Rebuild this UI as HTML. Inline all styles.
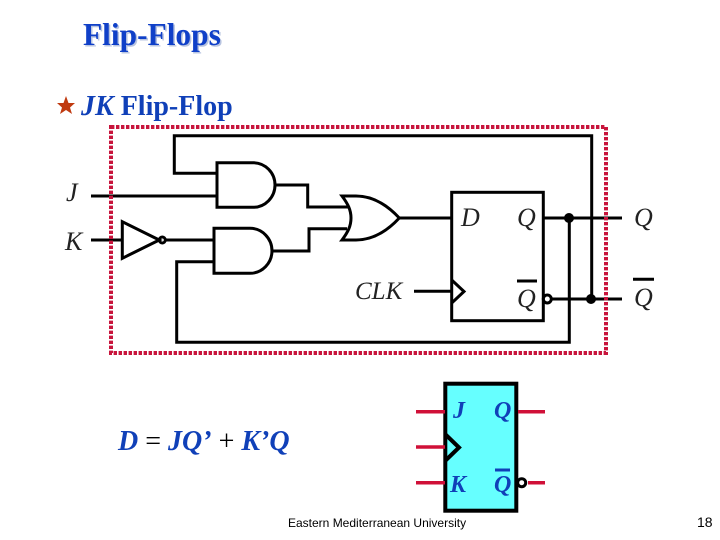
<!DOCTYPE html>
<html><head><meta charset="utf-8"><style>
html,body{margin:0;padding:0;background:#fff;width:720px;height:540px;overflow:hidden}
svg{display:block}
text{font-family:"Liberation Serif",serif}
.k{font-style:italic;fill:#222;font-size:26px}
.b{font-style:italic;font-weight:bold;fill:#1040b8;font-size:24px}
.w{fill:none;stroke:#000;stroke-width:3;stroke-linejoin:miter}
.r{stroke:#d01038;stroke-width:3.5}
</style></head><body>
<svg width="720" height="540" viewBox="0 0 720 540" xmlns="http://www.w3.org/2000/svg">
<text x="83" y="45" font-size="31.4" font-weight="bold" fill="#b8c4e0" transform="translate(1.5,1.5)">Flip-Flops</text>
<text x="83" y="45" font-size="31.4" font-weight="bold" fill="#1040c8">Flip-Flops</text>
<polygon points="66,96 68.5,103 75,103 70,107.5 72,114 66,110 60,114 62,107.5 57,103 63.5,103" fill="#c03a10"/>
<text x="81" y="115" font-size="28" font-weight="bold" fill="#1040b8"><tspan font-style="italic">JK</tspan> Flip-Flop</text>

<g class="w">
<path d="M91 196H217M91 240H122M165 240H214"/>
<path d="M217 173.3H174.3V135.7H591.7V299"/>
<path d="M214 261.7H176.7V342.3H569.3V218"/>
<path d="M217 162.7H253A22 22.3 0 0 1 253 207.3H217Z"/>
<path d="M214 228.3H250A22 22.5 0 0 1 250 273.3H214Z"/>
<path d="M122.3 221.7L159.3 240L122.3 258.3Z"/>
<circle cx="162.3" cy="240" r="3"/>
<path d="M275 185H307.7V207H348M272 251H309V228.7H347"/>
<path d="M342 196H356C375 196 390 208 399.3 218C390 228 375 240 356 240H342C348 232 351 226 351 218C351 210 348 204 342 196Z"/>
<path d="M399 218H451.7M543.3 218H622M552 299H622M414 291.3H451.7"/>
<rect x="451.7" y="192.3" width="91.6" height="128.4"/>
<path d="M451.7 280L464 291.5L451.7 303"/>
<circle cx="547.3" cy="299" r="4"/>
<path d="M517 281H537M633 279.3H654"/>
</g>
<circle cx="569" cy="218" r="5"/>
<circle cx="591" cy="299" r="5"/>
<text class="k" x="66" y="201">J</text>
<text class="k" x="65" y="250">K</text>
<text class="k" x="461" y="226">D</text>
<text class="k" x="517" y="226">Q</text>
<text class="k" x="517" y="307">Q</text>
<text class="k" x="355" y="299" style="font-size:25px">CLK</text>
<text class="k" x="634" y="226">Q</text>
<text class="k" x="634" y="306">Q</text>

<rect x="111" y="127" width="495" height="226" fill="none" stroke="#c8143c" stroke-width="4" stroke-dasharray="3.4 1.6"/>

<text x="118" y="450" font-size="28" fill="#000"><tspan font-style="italic" font-weight="bold" fill="#1040b8">D</tspan> = <tspan font-style="italic" font-weight="bold" fill="#1040b8">JQ’</tspan> + <tspan font-style="italic" font-weight="bold" fill="#1040b8">K’Q</tspan></text>

<rect x="445.3" y="383.7" width="71" height="127" fill="#66ffff" stroke="#000" stroke-width="4"/>
<path class="r" d="M416 411.7H445M416 447H445M416 482.7H445M518 411.7H545M528 482.7H545"/>
<path d="M445 434L459 447.5L445 461" fill="none" stroke="#000" stroke-width="4"/>
<circle cx="521.7" cy="482.7" r="4" fill="#fff" stroke="#000" stroke-width="3"/>
<text class="b" x="453" y="418">J</text>
<text class="b" x="494" y="418">Q</text>
<text class="b" x="450" y="492">K</text>
<text class="b" x="494" y="492">Q</text>
<rect x="495" y="468.5" width="15" height="3" fill="#1040b8"/>

<text x="288" y="527" font-size="12" style="font-family:'Liberation Sans',sans-serif" fill="#000">Eastern Mediterranean University</text>
<text x="697" y="527" font-size="14" style="font-family:'Liberation Sans',sans-serif" fill="#000">18</text>
</svg>
</body></html>
